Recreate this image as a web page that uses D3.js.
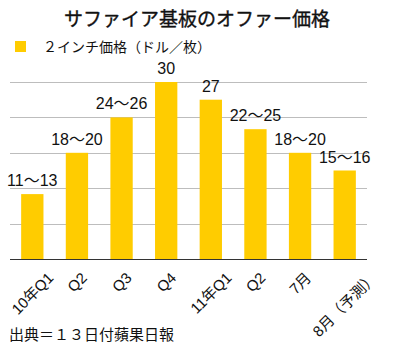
<!DOCTYPE html>
<html>
<head>
<meta charset="utf-8">
<script src="https://cdn.jsdelivr.net/npm/d3@7"></script>
<style>
  body { margin: 0; background: #fff; }
  svg { display: block; font-family: "Liberation Sans", "Noto Sans CJK JP", sans-serif; }
  .grid line { stroke: #bdbdbd; stroke-width: 1; }
</style>
</head>
<body>
<div id="graph"></div>
<script>
const categories = ["10年Q1", "Q2", "Q3", "Q4", "11年Q1", "Q2 ", "7月", "8月（予測）"];
const prices = [11, 18, 24, 30, 27, 22, 18, 15];
const priceLabels = ["11〜13", "18〜20", "24〜26", "30", "27", "22〜25", "18〜20", "15〜16"];
const yTicks = [0, 6, 12, 18, 24, 30];

const w = 394, h = 352;
const m = { left: 10, right: 27, top: 82, bottom: 93 };
const yellow = "#ffcc00";

const svg = d3.select("#graph").append("svg").attr("width", w).attr("height", h);

const x = d3.scaleBand().domain(categories).range([m.left, w - m.right]).paddingInner(0.5).paddingOuter(0.25);
const y = d3.scaleLinear().domain([0, 30]).range([h - m.bottom, m.top]);

// gridlines
svg.append("g")
  .attr("class", "grid")
  .selectAll("line")
  .data(yTicks.slice(1))
  .enter()
  .append("line")
  .attr("x1", m.left)
  .attr("x2", w - m.right)
  .attr("y1", (d) => Math.round(y(d)) + 0.5)
  .attr("y2", (d) => Math.round(y(d)) + 0.5);

svg.append("g")
  .selectAll("rect")
  .data(prices)
  .enter()
  .append("rect")
  .attr("x", (d, i) => x(categories[i]))
  .attr("width", x.bandwidth())
  .attr("y", (d) => y(d))
  .attr("height", (d) => y(0) - y(d))
  .attr("fill", yellow);

// baseline
svg.append("line")
  .attr("x1", m.left)
  .attr("x2", w - m.right)
  .attr("y1", Math.round(y(0)) + 0.5)
  .attr("y2", Math.round(y(0)) + 0.5)
  .attr("stroke", "#333")
  .attr("stroke-width", 1);

// value labels
svg.append("g")
  .selectAll("text")
  .data(prices)
  .enter()
  .append("text")
  .attr("x", (d, i) => x(categories[i]) + x.bandwidth() / 2)
  .attr("y", (d) => y(d) - 8)
  .attr("text-anchor", "middle")
  .attr("font-size", 16)
  .attr("fill", "#111")
  .text((d, i) => priceLabels[i]);

// rotated category labels, box tops aligned
const xl = svg.append("g")
  .selectAll("text")
  .data(categories)
  .enter()
  .append("text")
  .attr("text-anchor", "middle")
  .attr("dominant-baseline", "central")
  .attr("font-size", 15)
  .attr("fill", "#111")
  .text((d) => d.trim());
xl.each(function (d) {
  const L = this.getComputedTextLength();
  const cx = x(d) + x.bandwidth() / 2;
  const cy = y(0) + 11 + (L / 2 + 7) * Math.SQRT1_2;
  d3.select(this).attr("transform", `translate(${cx},${cy}) rotate(-45)`);
});

// title
svg.append("text")
  .attr("x", 197)
  .attr("y", 26)
  .attr("text-anchor", "middle")
  .attr("font-size", 19)
  .attr("fill", "#111")
  .attr("stroke", "#111")
  .attr("stroke-width", 0.35)
  .text("サファイア基板のオファー価格");

// legend
svg.append("rect").attr("x", 15).attr("y", 41).attr("width", 11).attr("height", 11).attr("fill", yellow);
svg.append("text")
  .attr("x", 43)
  .attr("y", 52)
  .attr("font-size", 14)
  .attr("fill", "#111")
  .text("２インチ価格（ドル／枚）");

// source
svg.append("text")
  .attr("x", 9)
  .attr("y", 340)
  .attr("font-size", 15)
  .attr("fill", "#111")
  .text("出典＝１３日付蘋果日報");
</script>
</body>
</html>
